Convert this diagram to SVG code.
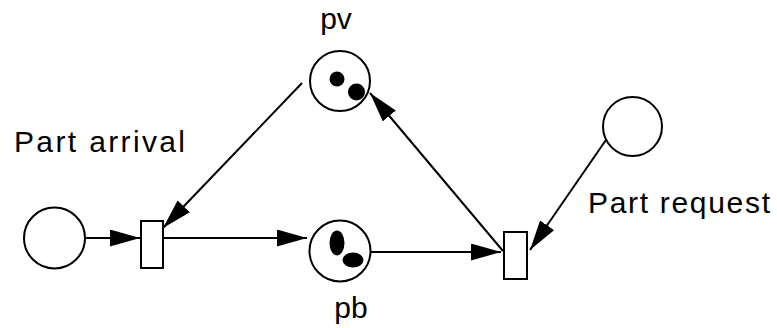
<svg xmlns="http://www.w3.org/2000/svg" width="777" height="328" viewBox="0 0 777 328">
<style>
.pl{fill:#fff;stroke:#000;stroke-width:2}
.tr{fill:#fff;stroke:#000;stroke-width:2}
.tk{fill:#000}
.ed{stroke:#000;stroke-width:2;fill:none;marker-end:url(#ah)}
.lb{font-family:"Liberation Sans",Arial,sans-serif;font-size:30px;fill:#000}
</style>
<defs>
<marker id="ah" markerUnits="userSpaceOnUse" markerWidth="32" markerHeight="18" refX="30" refY="8.5" orient="auto">
<path d="M0,0 L30,8.5 L0,17 z" fill="#000"/>
</marker>
</defs>
<g id="connectors">
<line class="ed" x1="85" y1="238" x2="140" y2="238"/>
<line class="ed" x1="160" y1="238" x2="307" y2="238"/>
<line class="ed" x1="371" y1="252" x2="501" y2="252"/>
<line class="ed" x1="503" y1="251" x2="370" y2="93"/>
<line class="ed" x1="302" y1="83" x2="163" y2="228"/>
<line class="ed" x1="608" y1="137" x2="530" y2="250"/>
</g>
<g id="p-arrival"><circle class="pl" cx="54.5" cy="238" r="30.5"/></g>
<g id="t-arrival"><rect class="tr" x="141" y="221" width="22" height="47"/></g>
<g id="pv">
<circle class="pl" cx="340" cy="81" r="30"/>
<circle class="tk" cx="337" cy="79" r="7.5"/>
<circle class="tk" cx="356.5" cy="92" r="8.5"/>
<text class="lb" x="336" y="29" text-anchor="middle">pv</text>
</g>
<g id="pb">
<circle class="pl" cx="340" cy="251" r="30.5"/>
<ellipse class="tk" cx="337" cy="243" rx="7.5" ry="12.5"/>
<ellipse class="tk" cx="353" cy="260" rx="10.5" ry="7.5"/>
<text class="lb" x="351" y="318" text-anchor="middle">pb</text>
</g>
<g id="t-request"><rect class="tr" x="504" y="232" width="23" height="47"/></g>
<g id="p-request"><circle class="pl" cx="632.5" cy="126.5" r="29.5"/></g>
<g id="labels">
<text class="lb" x="14" y="152" textLength="171" lengthAdjust="spacing">Part arrival</text>
<text class="lb" x="588" y="213" textLength="182" lengthAdjust="spacing">Part request</text>
</g>
</svg>
